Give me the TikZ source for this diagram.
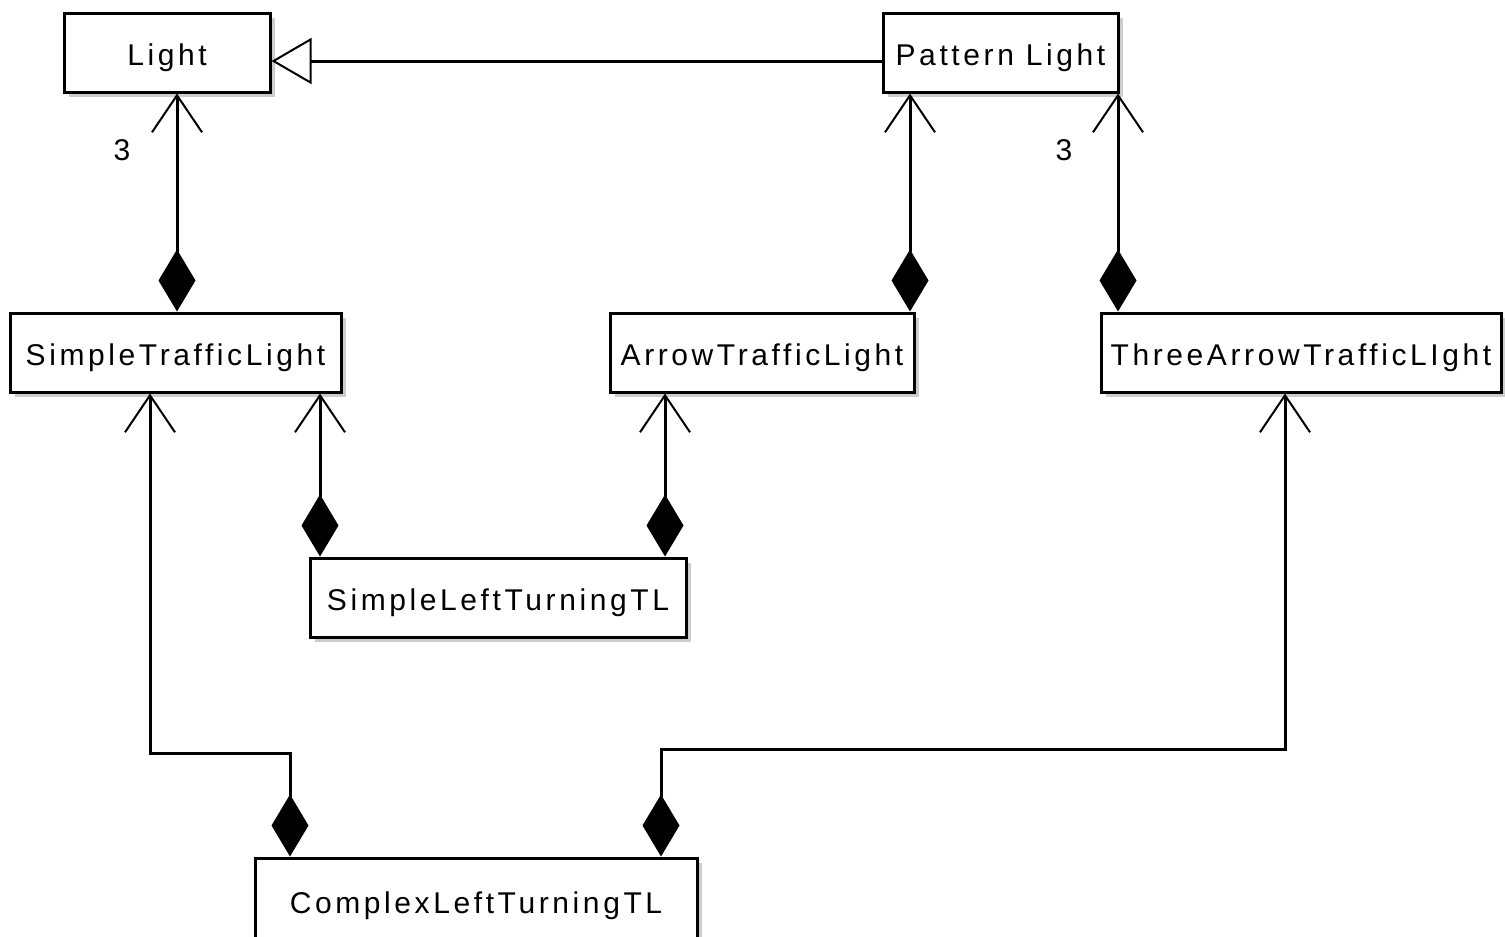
\documentclass[tikz,border=0pt]{standalone}
\usepackage{fontspec}
\newfontfamily\umlfont[LetterSpace=12]{Liberation Sans}
\usetikzlibrary{arrows.meta,shadows}
\tikzset{
  cls/.style={draw, line width=3pt, rectangle, inner sep=0pt, fill=white,
    font=\umlfont\fontsize{30}{36}\selectfont, text height=26pt, text depth=0pt,
    drop shadow={shadow xshift=5pt, shadow yshift=-5pt, fill=black!20, opacity=1}},
  conn/.style={line width=3pt},
  comp/.style={conn, {Straight Barb[length=37pt,width=50pt,line width=2pt]}-{Diamond[length=62pt,width=37pt]}},
  gen/.style={conn, -{Triangle[open,length=40pt,width=46pt,line width=2pt,fill=white]}},
  mult/.style={font=\umlfont\fontsize{30}{36}\selectfont, inner sep=0pt}
}
\begin{document}
\begin{tikzpicture}[x=1pt,y=-1pt]
\useasboundingbox[fill=white] (0,0) rectangle (1505,937);
% classes
\node[cls, minimum width=206pt, minimum height=79pt] (light) at (167,52.5) {Light};
\node[cls, minimum width=235pt, minimum height=79pt] (pattern) at (1000.5,52.5) {Pattern Light};
\node[cls, minimum width=331pt, minimum height=79pt] (stl) at (175.5,352.5) {SimpleTrafficLight};
\node[cls, minimum width=304pt, minimum height=79pt] (atl) at (762,352.5) {ArrowTrafficLight};
\node[cls, minimum width=400pt, minimum height=79pt] (tatl) at (1301,352.5) {ThreeArrowTrafficLIght};
\node[cls, minimum width=376pt, minimum height=79pt] (sltt) at (498,597.5) {SimpleLeftTurningTL};
\node[cls, minimum width=442pt, minimum height=84pt] (cltt) at (476,900) {ComplexLeftTurningTL};
% helper coordinates
\coordinate (gy) at (0,61);
\coordinate (xa) at (177,0);
\coordinate (xb) at (910,0);
\coordinate (xc) at (1118,0);
\coordinate (xd) at (320,0);
\coordinate (xe) at (665,0);
\coordinate (xf) at (150,0);
\coordinate (xg) at (290,0);
\coordinate (xh) at (1285,0);
\coordinate (xi) at (661,0);
\coordinate (b1) at (150,753);
\coordinate (b2) at (290,753);
\coordinate (b3) at (1285,749);
\coordinate (b4) at (661,749);
% generalization
\draw[gen] (pattern.west |- gy) -- (light.east |- gy);
% compositions
\draw[comp] (light.south -| xa) -- (stl.north -| xa);
\draw[comp] (pattern.south -| xb) -- (atl.north -| xb);
\draw[comp] (pattern.south -| xc) -- (tatl.north -| xc);
\draw[comp] (stl.south -| xd) -- (sltt.north -| xd);
\draw[comp] (atl.south -| xe) -- (sltt.north -| xe);
\draw[comp] (stl.south -| xf) -- (b1) -- (b2) -- (cltt.north -| xg);
\draw[comp] (tatl.south -| xh) -- (b3) -- (b4) -- (cltt.north -| xi);
% multiplicities
\node[mult] (m1) at (122,150) {3};
\node[mult] (m2) at (1064,150) {3};
\end{tikzpicture}
\end{document}
